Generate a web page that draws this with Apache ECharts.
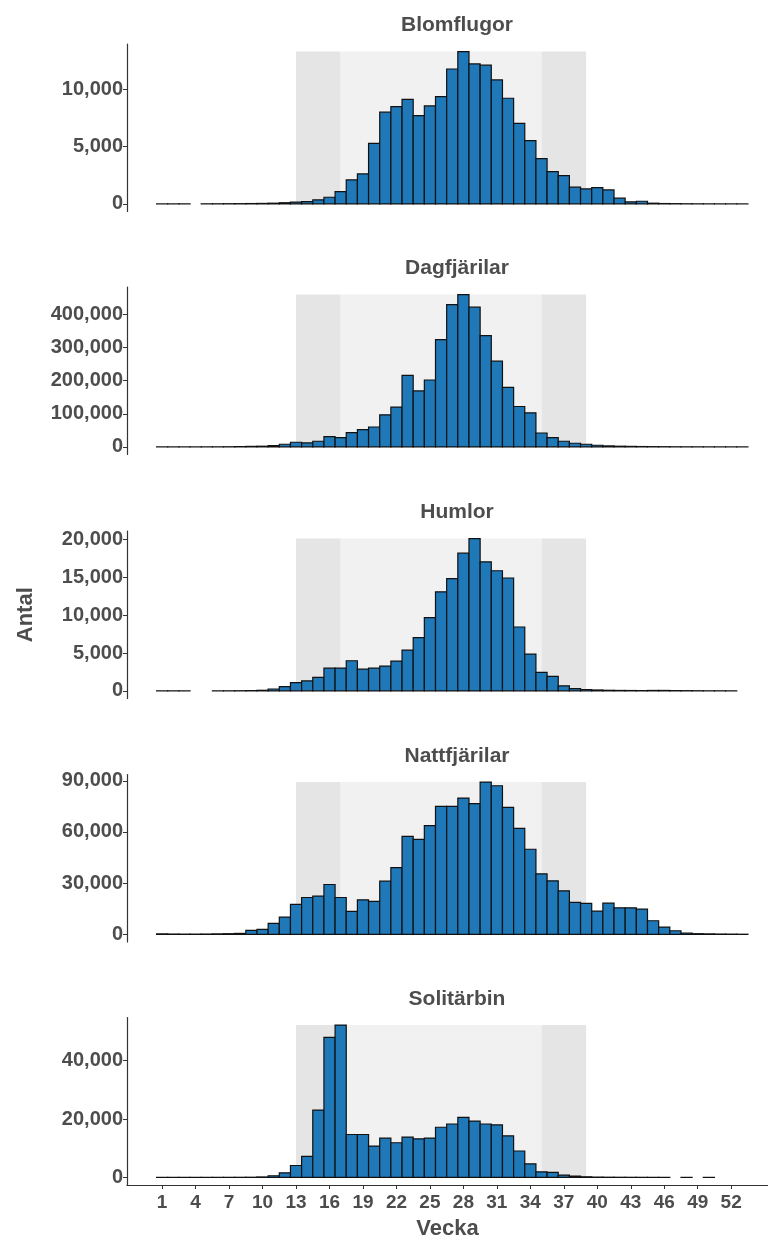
<!DOCTYPE html>
<html>
<head>
<meta charset="utf-8">
<script src="https://cdn.jsdelivr.net/npm/echarts@6/dist/echarts.min.js"></script>
<style>
  html, body { margin: 0; padding: 0; background: #fff; }
  #chart { width: 768px; height: 1241px; }
</style>
</head>
<body>
<div id="chart"></div>
<script>
// Weekly counts per insect group (week 1..53); null = no observations that week
const weeks = Array.from({ length: 53 }, (_, i) => i + 1);

const blomflugor = [
  2, 1, 3, null, 5, 10, 15, 20, 30, 40, 60, 100,
  150, 200, 350, 580, 1080, 2100, 2620, 5300, 8020, 8510, 9150, 7720, 8570, 9390,
  11800, 13320, 12240, 12130, 10840, 9240, 7050, 5540, 3960, 2830, 2480, 1460, 1310, 1430,
  1220, 500, 175, 230, 60, 30, 20, 10, 5, 3, 2, 2, 1
];

const dagfjarilar = [
  50, 30, 30, 40, 100, 200, 400, 800, 1500, 2000, 4000, 8000,
  14000, 12000, 17000, 31000, 28000, 43000, 52000, 60000, 97000, 120000, 216000, 169000, 202000, 324000,
  430000, 460000, 422000, 336000, 259000, 180000, 122000, 103000, 42000, 28000, 17000, 11000, 8000, 5000,
  3000, 2000, 1500, 1000, 700, 500, 300, 200, 150, 100, 80, 60, 40
];

const humlor = [
  5, 5, 5, null, null, 5, 10, 20, 40, 80, 250, 570,
  1090, 1310, 1790, 3010, 3010, 3980, 2880, 3010, 3280, 3930, 5380, 7040, 9660, 13070,
  14820, 18180, 20100, 17040, 15860, 14900, 8430, 4850, 2450, 1920, 660, 300, 180, 120,
  80, 60, 50, 40, 60, 60, 40, 30, 20, 10, 10, 5, null
];

const nattfjarilar = [
  300, 200, 150, 150, 200, 300, 400, 580, 2340, 2920, 6430, 10130,
  17530, 21620, 22400, 29220, 21620, 13440, 20260, 19290, 31170, 39160, 57470, 55720, 63700, 75000,
  75000, 79870, 76560, 89220, 87080, 74420, 62140, 49870, 35460, 31370, 25520, 18700, 18120, 13640,
  18310, 15580, 15580, 14810, 7990, 4290, 2140, 800, 400, 300, 200, 150, 100
];

const solitarbin = [
  10, 10, 10, 10, 10, 15, 20, 30, 50, 150, 560, 1580,
  4070, 7230, 23050, 48000, 52200, 14700, 14700, 10740, 13450, 11870, 13790, 13220, 13450, 17180,
  18300, 20570, 19320, 18300, 17970, 14240, 9040, 4630, 1920, 1700, 790, 450, 200, 100,
  60, 40, 30, 20, 15, 10, null, 10, null, 5, null, null, null
];

const panels = [
  { title: 'Blomflugor', values: blomflugor, ticks: [0, 5000, 10000] },
  { title: 'Dagfjärilar', values: dagfjarilar, ticks: [0, 100000, 200000, 300000, 400000] },
  { title: 'Humlor', values: humlor, ticks: [0, 5000, 10000, 15000, 20000] },
  { title: 'Nattfjärilar', values: nattfjarilar, ticks: [0, 30000, 60000, 90000] },
  { title: 'Solitärbin', values: solitarbin, ticks: [0, 20000, 40000] }
];

const weekTicks = [1, 4, 7, 10, 13, 16, 19, 22, 25, 28, 31, 34, 37, 40, 43, 46, 49, 52];

// Season bands: edges of the season (darker) and main season (lighter)
const seasonBands = [
  { from: 13, to: 17, color: '#e5e5e5' },
  { from: 17, to: 35, color: '#f1f1f1' },
  { from: 35, to: 39, color: '#e5e5e5' }
];

const TEXT = '#4d4d4d';
const FONT = '"Liberation Sans", Arial, sans-serif';
const gridLeft = 127;
const gridHeight = 167.5;
const gridTops = [44, 287, 531, 774.5, 1017.5];
const xMin = -2.15, xMax = 55.3;
const titleCenterX = 452;

const fmt = v => Math.round(v).toLocaleString('en-US');

function renderBar(params, api) {
  const w = api.value(0);
  const v = api.value(1);
  const top = api.coord([w - 0.5, v]);
  const base = api.coord([w + 0.5, 0]);
  return {
    type: 'rect',
    shape: { x: top[0], y: top[1], width: base[0] - top[0], height: base[1] - top[1] },
    style: { fill: '#1f78b8', stroke: '#111', lineWidth: 1.2 }
  };
}

const option = {
  animation: false,
  backgroundColor: '#ffffff',
  textStyle: { fontFamily: FONT },
  title: [],
  grid: [],
  xAxis: [],
  yAxis: [],
  series: []
};

panels.forEach((p, i) => {
  const maxVal = Math.max(...p.values.filter(v => v !== null));
  const last = i === panels.length - 1;

  option.title.push({
    text: p.title,
    left: titleCenterX,
    top: gridTops[i] - 34,
    textAlign: 'center',
    textStyle: { fontFamily: FONT, fontSize: 21, fontWeight: 'bold', color: TEXT }
  });

  option.grid.push({
    left: gridLeft, top: gridTops[i], right: 0, height: gridHeight,
    outerBoundsMode: 'none', containLabel: false
  });

  option.xAxis.push({
    type: 'value',
    gridIndex: i,
    min: xMin,
    max: xMax,
    show: last,
    splitLine: { show: false },
    axisLine: { show: last, onZero: false, lineStyle: { color: '#333', width: 1.2 } },
    axisTick: { show: last, customValues: weekTicks, length: 4, lineStyle: { color: '#333' } },
    axisLabel: {
      show: last, customValues: weekTicks, margin: 8,
      fontFamily: FONT, fontSize: 19, fontWeight: 'bold', color: TEXT
    },
    name: last ? 'Vecka' : '',
    nameLocation: 'middle',
    nameGap: 33,
    nameTextStyle: { fontFamily: FONT, fontSize: 22, fontWeight: 'bold', color: TEXT, align: 'center' }
  });

  option.yAxis.push({
    type: 'value',
    gridIndex: i,
    min: -0.05 * maxVal,
    max: 1.05 * maxVal,
    splitLine: { show: false },
    axisLine: { show: true, onZero: false, lineStyle: { color: '#333', width: 1.2 } },
    axisTick: { show: true, customValues: p.ticks, length: 4, lineStyle: { color: '#333' } },
    axisLabel: {
      customValues: p.ticks, margin: 4, formatter: fmt,
      fontFamily: FONT, fontSize: 20, fontWeight: 'bold', color: TEXT
    },
    name: i === 2 ? 'Antal' : '',
    nameLocation: 'middle',
    nameGap: 90,
    nameRotate: 90,
    nameTextStyle: { fontFamily: FONT, fontSize: 22, fontWeight: 'bold', color: TEXT }
  });

  const data = [];
  weeks.forEach((w, k) => {
    if (p.values[k] !== null && p.values[k] !== undefined) data.push([w, p.values[k]]);
  });

  option.series.push({
    type: 'custom',
    xAxisIndex: i,
    yAxisIndex: i,
    renderItem: renderBar,
    data: data,
    clip: false,
    markArea: {
      silent: true,
      data: seasonBands.map(b => [
        { coord: [b.from, 0], itemStyle: { color: b.color } },
        { coord: [b.to, maxVal] }
      ])
    },
    z: 2
  });
});

const chart = echarts.init(document.getElementById('chart'), null, { renderer: 'canvas' });
chart.setOption(option);
</script>
</body>
</html>
